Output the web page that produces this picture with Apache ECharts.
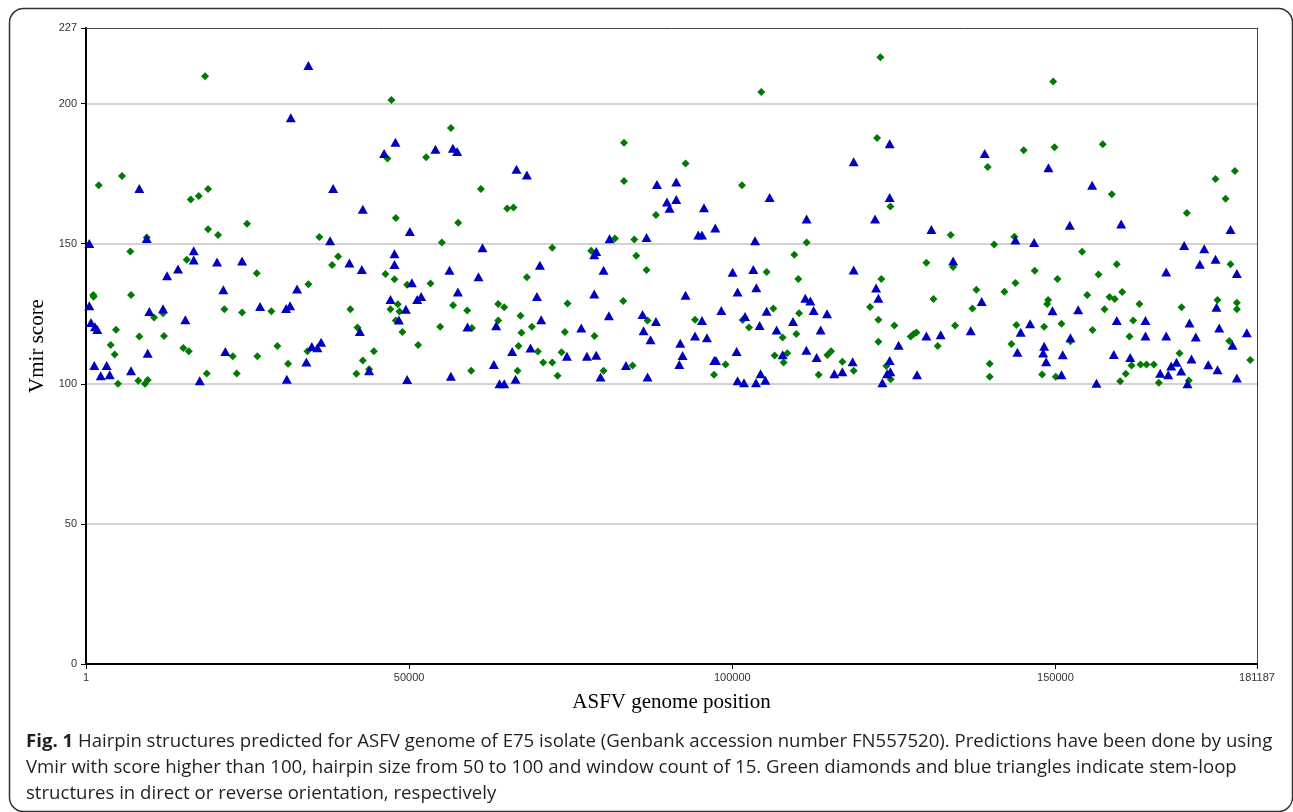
<!DOCTYPE html>
<html><head><meta charset="utf-8">
<script src="https://cdn.jsdelivr.net/npm/echarts@6/dist/echarts.min.js"></script>
<style>html,body{margin:0;padding:0;background:#fff}#c{width:1293px;height:812px}</style>
</head><body><div id="c"></div>
<script>
// ---- data (genome position, Vmir score) ----
const xTickValues = [1, 50000, 100000, 150000, 181187];
const yMin = 0, yMax = 227, yInterval = 50;
const xMin = 1, xMax = 181187;

// Green diamonds: direct orientation
const directHairpins = [
[18420,209.8],[1970,170.9],[5570,174.2],[16210,165.8],[17450,167.0],[18890,169.5],[18890,155.2],[20430,153.1],[24920,157.1],[9400,152.2],[6860,147.2],[15590,144.3],[26420,139.5],[1130,131.7],[1180,131.1],[6970,131.7],[10530,123.7],[11920,125.2],[21410,126.6],[24150,125.5],[28680,125.9],[4640,119.3],[8250,116.9],[12070,117.1],[3820,113.9],[4440,110.5],[15060,112.8],[15900,111.6],[22710,109.8],[26520,109.8],[29610,113.5],[4950,100.0],[8100,101.1],[9130,100.0],[9550,101.4],[18680,103.7],[23330,103.7],
[47260,201.3],[56460,191.3],[46640,180.4],[52630,180.9],[47940,159.2],[57590,157.5],[36110,152.4],[55060,150.4],[39010,145.4],[38080,142.4],[46330,139.2],[47730,137.3],[34410,135.5],[49690,135.4],[53300,135.8],[48250,128.4],[47110,126.6],[48500,125.8],[56810,128.0],[58980,126.2],[40910,126.6],[47940,122.6],[42000,120.1],[48960,118.5],[54800,120.4],[59710,119.9],[34260,111.6],[44540,111.6],[51390,113.9],[31270,107.2],[42830,108.3],[43810,105.2],[41840,103.6],[59600,104.7],
[83240,186.0],[83240,172.4],[61100,169.5],[65170,162.6],[66150,162.9],[88190,160.3],[81840,151.9],[84830,151.5],[72140,148.6],[78170,147.5],[85140,145.7],[86730,140.6],[68220,138.0],[74500,128.7],[83130,129.6],[63780,128.5],[64710,127.3],[63780,122.6],[67230,124.3],[68990,120.4],[67380,118.2],[74100,118.5],[78680,117.1],[86890,122.6],[66920,113.5],[69920,111.5],[73580,111.3],[70740,107.6],[72140,107.6],[66770,104.7],[72960,102.9],[80080,104.7],[84570,106.5],
[104490,204.2],[92770,178.6],[101500,170.9],[111500,150.4],[109600,146.1],[105310,139.9],[110220,137.4],[106350,126.9],[110330,125.2],[94230,122.9],[101600,122.8],[102590,120.1],[107790,116.5],[109910,117.8],[98960,106.9],[97170,103.2],[106550,110.1],[108510,110.9],[107940,107.6],[114710,110.3],[115280,111.6],[117030,107.9],[118780,104.7],[113360,103.2],
[122910,216.6],[149650,207.9],[122400,187.7],[139520,177.4],[145090,183.4],[149850,184.4],[124460,163.3],[133790,153.1],[140510,149.7],[143650,152.5],[130030,143.2],[134170,141.7],[123070,137.4],[121320,127.4],[131120,130.3],[137770,133.6],[137150,126.9],[142110,132.9],[143810,136.0],[146800,140.4],[150310,137.4],[148870,129.9],[148720,128.5],[122600,122.9],[125080,120.8],[122600,115.0],[127600,116.9],[128070,117.8],[128480,118.3],[131780,113.5],[134470,120.8],[143960,121.0],[148250,120.4],[143190,114.2],[123840,106.4],[124510,101.6],[139830,107.2],[139830,102.5],[147940,103.3],[150050,102.5],
[157320,185.5],[158720,167.7],[174770,173.1],[177760,176.0],[176320,166.1],[170330,161.0],[154130,147.1],[177090,142.7],[159490,142.7],[156660,139.0],[154910,131.7],[158360,131.0],[159180,130.3],[160330,132.8],[157590,126.6],[163000,128.5],[169510,127.3],[175080,129.9],[178070,128.9],[178070,126.6],[162030,122.6],[150930,121.4],[155730,119.2],[152320,115.2],[161460,116.9],[176890,115.3],[161770,106.5],[163160,106.9],[164090,106.9],[165220,106.9],[169200,110.9],[180140,108.5],[160880,103.6],[160020,100.9],[165990,100.4],[170640,101.2]
];

// Blue triangles: reverse orientation
const reverseHairpins = [
[8250,169.7],[510,150.1],[9400,151.9],[16670,147.5],[16670,144.2],[20280,143.5],[24150,143.8],[14240,141.0],[12540,138.6],[21250,133.6],[510,127.9],[9800,125.8],[11920,126.8],[26940,127.6],[770,121.9],[1390,120.4],[1750,119.4],[15370,122.9],[9550,110.9],[21560,111.5],[1280,106.5],[3200,106.5],[2280,102.9],[3670,103.2],[6970,104.7],[17600,101.1],
[34410,213.6],[31690,195.0],[47880,186.2],[46130,182.2],[54070,183.7],[56770,184.1],[57430,182.9],[38240,169.7],[42830,162.3],[50110,154.4],[37770,151.1],[47730,146.4],[40760,143.1],[42680,140.8],[47730,142.6],[56240,140.5],[32660,133.8],[50420,136.1],[57540,132.8],[51860,131.2],[51240,130.1],[47110,130.1],[49490,126.6],[30960,126.9],[31580,127.9],[48410,122.8],[42370,118.7],[59030,120.3],[34940,113.3],[36380,114.8],[35810,112.9],[34100,107.8],[43810,104.7],[31070,101.6],[49690,101.5],[56460,102.7],
[66610,176.6],[68220,174.5],[88340,171.1],[89890,164.9],[90300,162.7],[81010,151.8],[86730,152.2],[61350,148.6],[78950,147.2],[78640,146.1],[70230,142.3],[80080,140.5],[60730,138.2],[69770,131.2],[78640,132.1],[63470,120.7],[70430,122.9],[76630,119.9],[80910,124.3],[86110,124.7],[88190,122.2],[86270,118.9],[87350,115.7],[65940,111.5],[68780,112.8],[74410,109.8],[77510,109.8],[78950,110.2],[63110,106.9],[66460,101.6],[63980,100.0],[64710,100.0],[79610,102.4],[83550,106.5],[86890,102.4],
[91330,172.0],[91330,165.8],[95620,162.8],[105780,166.5],[118780,179.3],[111500,158.8],[94740,153.1],[95310,153.1],[97370,155.6],[103520,151.1],[118780,140.6],[100050,139.8],[103250,140.8],[92770,131.6],[100820,132.8],[103720,134.3],[111300,130.5],[112080,129.6],[98300,126.2],[105310,125.9],[112590,126.2],[114660,125.0],[95310,122.6],[101970,124.0],[104230,120.8],[106860,119.2],[109400,122.2],[113670,119.2],[94230,117.1],[96080,116.4],[91950,114.5],[92310,110.1],[91800,106.9],[100670,111.5],[97210,108.3],[97480,108.3],[107790,110.4],[111460,112.0],[113050,109.4],[118620,107.9],[117030,104.3],[115790,103.6],[100820,101.1],[101810,100.4],[103670,100.4],[104380,103.6],[105110,101.3],
[124350,185.7],[139060,182.2],[148920,177.1],[124350,166.5],[122090,158.8],[130810,155.1],[143810,151.3],[146700,150.4],[134170,143.8],[122250,134.2],[122600,130.5],[138590,129.4],[149540,126.1],[125740,113.8],[130030,117.1],[132250,117.5],[136890,118.9],[146080,121.4],[144630,118.4],[144120,111.3],[148250,113.4],[148100,111.0],[148560,107.9],[124350,108.3],[124460,104.3],[123950,103.6],[123220,100.4],[128590,103.2],
[155680,170.9],[152220,156.6],[160170,157.0],[177090,155.1],[169920,149.4],[173020,148.2],[172340,142.7],[174770,144.5],[178070,139.4],[167140,139.9],[153520,126.4],[174920,127.3],[159490,122.6],[163930,122.6],[170740,121.7],[175340,119.9],[179610,118.2],[152320,116.4],[163930,117.1],[167140,117.1],[171720,116.7],[177400,113.8],[151130,110.4],[159030,110.5],[161570,109.4],[171050,108.9],[168730,107.7],[167910,106.4],[173640,106.8],[175080,105.0],[169460,104.6],[150930,103.2],[166210,103.8],[167450,103.2],[156350,100.2],[170430,100.0],[178070,102.1]
];

const xAxisTitle = 'ASFV genome position';
const yAxisTitle = 'Vmir score';
const captionBold = 'Fig. 1';
const captionLines = [
  ' Hairpin structures predicted for ASFV genome of E75 isolate (Genbank accession number FN557520). Predictions have been done by using',
  'Vmir with score higher than 100, hairpin size from 50 to 100 and window count of 15. Green diamonds and blue triangles indicate stem-loop',
  'structures in direct or reverse orientation, respectively'
];

const chart = echarts.init(document.getElementById('c'), null, {renderer: 'canvas'});
const labelStyle = {fontFamily: 'Liberation Sans, Arial, sans-serif', fontSize: 11, color: '#333'};
const titleStyle = {fontFamily: 'Liberation Serif, Times New Roman, serif', fontSize: 21, color: '#000'};
const plain = v => String(v);

chart.setOption({
  animation: false,
  backgroundColor: '#fff',
  grid: {left: 86, right: 36, top: 28, bottom: 148, containLabel: false},
  xAxis: [{
    type: 'value', min: xMin, max: xMax, position: 'bottom',
    axisLine: {show: true, onZero: false, lineStyle: {color: '#000', width: 2}},
    axisTick: {show: true, customValues: xTickValues, length: 5, lineStyle: {color: '#000', width: 1}},
    axisLabel: Object.assign({customValues: xTickValues, margin: 8, formatter: plain}, labelStyle),
    splitLine: {show: false},
    name: xAxisTitle, nameLocation: 'middle', nameGap: 28, nameTextStyle: titleStyle
  }, {
    type: 'value', min: xMin, max: xMax, position: 'top',
    axisLine: {show: true, onZero: false, lineStyle: {color: '#444', width: 1}},
    axisTick: {show: false}, axisLabel: {show: false}, splitLine: {show: false}
  }],
  yAxis: [{
    type: 'value', min: yMin, max: yMax, interval: yInterval, position: 'left',
    axisLine: {show: true, onZero: false, lineStyle: {color: '#000', width: 2}},
    axisTick: {show: true, length: 5, lineStyle: {color: '#000', width: 1}},
    axisLabel: Object.assign({margin: 9, showMaxLabel: true, formatter: plain}, labelStyle),
    splitLine: {show: true, showMinLine: false, showMaxLine: false, lineStyle: {color: '#c4c4c4', width: 1.5}},
    name: yAxisTitle, nameLocation: 'middle', nameGap: 37, nameTextStyle: titleStyle
  }, {
    type: 'value', min: yMin, max: yMax, interval: yInterval, position: 'right',
    axisLine: {show: true, onZero: false, lineStyle: {color: '#444', width: 1}},
    axisTick: {show: false}, axisLabel: {show: false}, splitLine: {show: false}
  }],
  series: [{
    name: 'direct', type: 'scatter', symbol: 'diamond', symbolSize: [8, 8],
    itemStyle: {color: '#007a00', opacity: 1}, data: directHairpins, z: 3
  }, {
    name: 'reverse', type: 'scatter', symbol: 'triangle', symbolSize: [10, 9],
    itemStyle: {color: '#0000c0', opacity: 1}, data: reverseHairpins, z: 4
  }],
  graphic: [{
    type: 'rect', silent: true, z: -10,
    shape: {x: 9.5, y: 8.5, width: 1283, height: 803, r: 14},
    style: {fill: 'none', stroke: '#333', lineWidth: 1.5}
  }, {
    type: 'text', left: 26, top: 729, silent: true,
    style: {
      text: '{b|' + captionBold + '}' + captionLines[0] + '\n' + captionLines[1] + '\n' + captionLines[2],
      fontFamily: 'Open Sans, sans-serif', fontSize: 18.6, fill: '#231f20', lineHeight: 26,
      rich: {b: {fontFamily: 'Open Sans, sans-serif', fontSize: 18.6, fontWeight: 'bold', fill: '#231f20', lineHeight: 26}}
    }
  }]
});
</script></body></html>
